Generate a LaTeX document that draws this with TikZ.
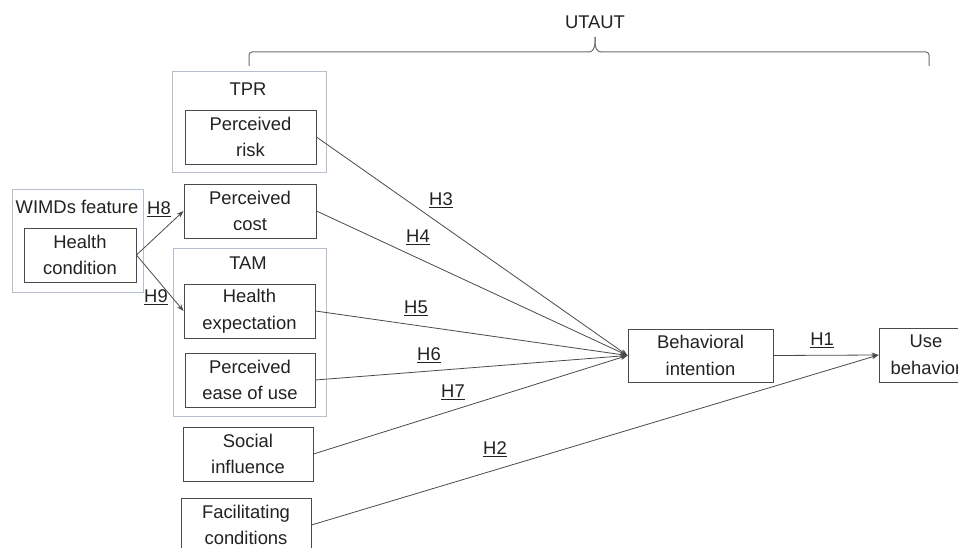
\documentclass[tikz,border=0pt]{standalone}
\usepackage{fontspec}
\setmainfont{Liberation Sans}
\usetikzlibrary{arrows.meta}
\definecolor{frame}{HTML}{B5BFD0}
\definecolor{edge}{HTML}{4A4A4A}
\definecolor{ink}{HTML}{222222}
\begin{document}
\begin{tikzpicture}[x=1pt,y=-1pt,
  every node/.style={font=\fontsize{18.4}{26.5}\selectfont, text=ink},
  box/.style={draw=edge, line width=0.9pt, align=center, inner sep=0pt},
  group/.style={draw=frame, line width=1pt, inner sep=0pt},
  conn/.style={draw=edge, line width=0.8pt, -{Stealth[length=7pt,width=5pt]}},
  hyp/.style={inner sep=1pt}]
\clip (0,0) rectangle (958,548);
\fill[white] (0,0) rectangle (958,548);
% group frames
\node[group, minimum width=154, minimum height=101] (tpr) at (249,122.5) {};
\node[group, minimum width=131, minimum height=102] (wimd) at (77.5,241) {};
\node[group, minimum width=153, minimum height=168] (tam) at (249.5,332) {};
\node (tprl) at (248,89) {TPR};
\node (wimdl) at (77,207) {WIMDs feature};
\node (taml) at (248,263) {TAM};
% boxes
\node[box, minimum width=131, minimum height=54] (risk) at (250.5,137) {Perceived\\risk};
\node[box, minimum width=132, minimum height=54] (cost) at (250,211) {Perceived\\cost};
\node[box, minimum width=112, minimum height=54] (hc) at (80,255) {Health\\condition};
\node[box, minimum width=131, minimum height=54] (he) at (249.5,311) {Health\\expectation};
\node[box, minimum width=130, minimum height=54] (peou) at (250,380) {Perceived\\ease of use};
\node[box, minimum width=130, minimum height=54] (si) at (248,454) {Social\\influence};
\node[box, minimum width=130, minimum height=54] (fc) at (246,525) {Facilitating\\conditions};
\node[box, minimum width=145, minimum height=53] (bi) at (700.5,355.5) {Behavioral\\intention};
\node[box, minimum width=94, minimum height=54] (ub) at (926,355) {Use\\behavior};
% connectors
\draw[conn] (hc.east) -- (cost.west);
\draw[conn] (hc.east) -- (he.west);
\draw[conn] (risk.east) -- (bi.west);
\draw[conn] (cost.east) -- (bi.west);
\draw[conn] (he.east) -- (bi.west);
\draw[conn] (peou.east) -- (bi.west);
\draw[conn] (si.east) -- (bi.west);
\draw[conn] (fc.east) -- (ub.west);
\draw[conn] (bi.east) -- (ub.west);
% hypothesis labels
\node[hyp] (h1) at (822,340) {\underline{H1}};
\node[hyp] (h2) at (495,449) {\underline{H2}};
\node[hyp] (h3) at (441,200) {\underline{H3}};
\node[hyp] (h4) at (418,237) {\underline{H4}};
\node[hyp] (h5) at (416,308) {\underline{H5}};
\node[hyp] (h6) at (429,355) {\underline{H6}};
\node[hyp] (h7) at (453,392) {\underline{H7}};
\node[hyp] (h8) at (159,209) {\underline{H8}};
\node[hyp] (h9) at (156,297) {\underline{H9}};
% UTAUT brace
\node (utaut) at (595,22) {UTAUT};
\coordinate (bl) at (249,66);
\coordinate (br) at (929,66);
\coordinate (bt) at (595,37);
\draw[draw=edge!80, line width=1pt, rounded corners=3pt]
  (bl) -- (249,52) -- (592,52) -- (595,46) -- (bt);
\draw[draw=edge!80, line width=1pt, rounded corners=3pt]
  (bt) -- (595,46) -- (598,52) -- (929,52) -- (br);
\end{tikzpicture}
\end{document}
